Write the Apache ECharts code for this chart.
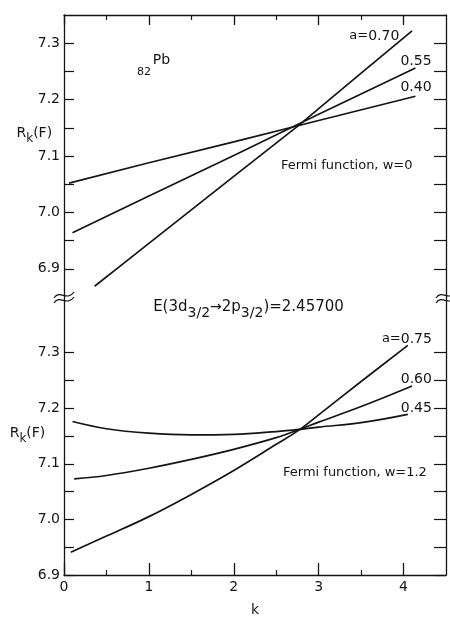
<!DOCTYPE html>
<html>
<head>
<meta charset="utf-8">
<script src="https://cdn.jsdelivr.net/npm/echarts@6/dist/echarts.min.js"></script>
<style>
  html, body { margin: 0; padding: 0; background: #ffffff; }
  #chart { width: 450px; height: 620px; }
</style>
</head>
<body>
<div id="chart"></div>
<script>
// Tick positions shared by both panels
const kMajorTicks = [0, 1, 2, 3, 4];
const kMinorTicks = [0.5, 1.5, 2.5, 3.5];
const rTicks = [6.9, 6.95, 7.0, 7.05, 7.1, 7.15, 7.2, 7.25, 7.3];
const rLabels = [6.9, 7.0, 7.1, 7.2, 7.3];

// Upper panel: Fermi function, w = 0
const kTopA070 = [0.36, 1, 2, 2.78, 3, 4.1];
const rTopA070 = [6.869, 6.945, 7.064, 7.156, 7.184, 7.322];
const kTopA055 = [0.1, 1, 2, 3, 4.14];
const rTopA055 = [6.964, 7.029, 7.101, 7.174, 7.256];
const kTopA040 = [0.06, 1, 2, 3, 4.14];
const rTopA040 = [7.052, 7.088, 7.125, 7.163, 7.206];

// Lower panel: Fermi function, w = 1.2
const kBotA075 = [0.08, 0.5, 1, 1.5, 2, 2.5, 2.78, 3, 3.5, 4.05];
const rBotA075 = [6.941, 6.970, 7.005, 7.045, 7.088, 7.135, 7.162, 7.188, 7.248, 7.313];
const kBotA060 = [0.12, 0.5, 1, 1.5, 2, 2.5, 2.78, 3, 3.5, 4.1];
const rBotA060 = [7.073, 7.079, 7.092, 7.108, 7.126, 7.147, 7.162, 7.175, 7.203, 7.240];
const kBotA045 = [0.1, 0.5, 1, 1.5, 2, 2.5, 2.78, 3, 3.5, 4.05];
const rBotA045 = [7.176, 7.163, 7.155, 7.152, 7.153, 7.158, 7.162, 7.166, 7.174, 7.189];

const topCurveLabels = ['0.70', '0.55', '0.40'];
const botCurveLabels = ['0.75', '0.60', '0.45'];
const topCaption = 'Fermi function, w=0';
const botCaption = 'Fermi function, w=1.2';

const INK = '#141414';
const FONT = 'DejaVu Sans';

function pairs(ks, rs) { return ks.map((k, i) => [k, rs[i]]); }

function xAxisPair(grid, pos, majorLen, withLabels) {
  return [
    {
      gridIndex: grid, type: 'value', position: pos, min: 0, max: 4.5,
      axisLine: { show: true, onZero: false, lineStyle: { color: INK, width: 1.3 } },
      axisTick: { show: true, inside: true, length: majorLen, customValues: kMajorTicks,
                  lineStyle: { color: INK, width: 1.3 } },
      axisLabel: withLabels
        ? { show: true, customValues: kMajorTicks, color: INK, fontFamily: FONT, fontSize: 14, margin: 5,
            formatter: v => String(Math.round(v)) }
        : { show: false },
      splitLine: { show: false },
      name: withLabels ? 'k' : '',
      nameLocation: 'middle', nameGap: 28,
      nameTextStyle: { color: INK, fontFamily: FONT, fontSize: 14 }
    },
    {
      gridIndex: grid, type: 'value', position: pos, min: 0, max: 4.5,
      axisLine: { show: false },
      axisTick: { show: true, inside: true, length: 5, customValues: kMinorTicks,
                  lineStyle: { color: INK, width: 1.2 } },
      axisLabel: { show: false },
      splitLine: { show: false }
    }
  ];
}

function yAxisPair(grid, min, max) {
  return [
    {
      gridIndex: grid, type: 'value', position: 'left', min: min, max: max,
      axisLine: { show: true, onZero: false, lineStyle: { color: INK, width: 1.3 } },
      axisTick: { show: true, inside: true, length: 10, customValues: rTicks,
                  lineStyle: { color: INK, width: 1.2 } },
      axisLabel: { show: true, customValues: rLabels, color: INK, fontFamily: FONT, fontSize: 14, margin: 4,
                   formatter: v => v.toFixed(1) },
      splitLine: { show: false }
    },
    {
      gridIndex: grid, type: 'value', position: 'right', min: min, max: max,
      axisLine: { show: true, onZero: false, lineStyle: { color: INK, width: 1.3 } },
      axisTick: { show: true, inside: true, length: 12, customValues: rTicks,
                  lineStyle: { color: INK, width: 1.2 } },
      axisLabel: { show: false },
      splitLine: { show: false }
    }
  ];
}

function curve(name, xi, yi, data, smooth) {
  return {
    name: 'a=' + name, type: 'line', xAxisIndex: xi, yAxisIndex: yi,
    data: data, showSymbol: false, symbol: 'none', smooth: smooth,
    lineStyle: { color: INK, width: 1.7 }, silent: true, animation: false
  };
}

const chart = echarts.init(document.getElementById('chart'), null, { renderer: 'canvas' });

chart.setOption({
  backgroundColor: '#ffffff',
  animation: false,
  grid: [
    { left: 64, right: 4, top: 15, height: 282 },
    { left: 64, right: 4, top: 297, height: 278 }
  ],
  xAxis: [...xAxisPair(0, 'top', 10, false), ...xAxisPair(1, 'bottom', 12, true)],
  yAxis: [...yAxisPair(0, 6.85, 7.35), ...yAxisPair(1, 6.9, 7.4)],
  series: [
    curve(topCurveLabels[0], 0, 0, pairs(kTopA070, rTopA070), 0.2),
    curve(topCurveLabels[1], 0, 0, pairs(kTopA055, rTopA055), false),
    curve(topCurveLabels[2], 0, 0, pairs(kTopA040, rTopA040), false),
    curve(botCurveLabels[0], 2, 2, pairs(kBotA075, rBotA075), 0.4),
    curve(botCurveLabels[1], 2, 2, pairs(kBotA060, rBotA060), 0.4),
    curve(botCurveLabels[2], 2, 2, pairs(kBotA045, rBotA045), 0.4)
  ]
});

// Annotations, placed in each panel's data space
function px(grid, k, r) { return chart.convertToPixel({ gridIndex: grid }, [k, r]); }

function label(grid, k, r, text, align, extra) {
  const p = px(grid, k, r);
  return {
    type: 'text', x: p[0], y: p[1], silent: true,
    style: Object.assign({
      text: text, fill: INK, font: '13px "' + FONT + '"',
      align: align, verticalAlign: 'middle'
    }, extra || {})
  };
}

const richRk = {
  n: { fontFamily: FONT, fontSize: 14, lineHeight: 24, fill: INK, color: INK },
  s: { fontFamily: FONT, fontSize: 12, lineHeight: 12, verticalAlign: 'bottom', fill: INK, color: INK }
};
const richE = {
  n: { fontFamily: FONT, fontSize: 15, lineHeight: 26, fill: INK, color: INK },
  s: { fontFamily: FONT, fontSize: 14, lineHeight: 12, verticalAlign: 'bottom', fill: INK, color: INK },
  a: { fontFamily: FONT, fontSize: 14, lineHeight: 26, fill: INK, color: INK }
};
const richA = {
  p: { fontFamily: FONT, fontSize: 13, fill: INK, color: INK },
  d: { fontFamily: FONT, fontSize: 14, fill: INK, color: INK }
};

function breakMark(grid, k, r) {
  const p = px(grid, k, r);
  const one = dy => ({
    type: 'bezierCurve', x: p[0], y: p[1] + dy, silent: true,
    shape: { x1: -10, y1: 3, cpx1: -4, cpy1: -6, cpx2: 3, cpy2: 7, x2: 10, y2: -3 },
    style: { stroke: INK, lineWidth: 1.2, fill: null }
  });
  return [one(-2), one(3)];
}

const f14 = { font: '14px "' + FONT + '"' };

chart.setOption({
  graphic: [
    label(0, 3.95, 7.313, '{p|a=}{d|' + topCurveLabels[0] + '}', 'right', { rich: richA }),
    label(0, 4.33, 7.2686, topCurveLabels[1], 'right', f14),
    label(0, 4.33, 7.2225, topCurveLabels[2], 'right', f14),
    label(0, 2.556, 7.0824, topCaption, 'left'),
    label(0, 0.86, 7.249, '82', 'left', { font: '11px "' + FONT + '"' }),
    label(0, 1.045, 7.270, 'Pb', 'left', f14),
    label(0, -0.56, 7.141, '{n|R}{s|k}{n|(F)}', 'left', { rich: richRk }),
    label(1, 4.334, 7.3245, '{p|a=}{d|' + botCurveLabels[0] + '}', 'right', { rich: richA }),
    label(1, 4.334, 7.252, botCurveLabels[1], 'right', f14),
    label(1, 4.334, 7.1998, botCurveLabels[2], 'right', f14),
    label(1, 2.58, 7.0835, botCaption, 'left'),
    label(1, 1.05, 7.382, '{n|E(3d}{s|3/2}{a|\u2192}{n|2p}{s|3/2}{n|)=2.45700}', 'left', { rich: richE }),
    label(1, -0.64, 7.155, '{n|R}{s|k}{n|(F)}', 'left', { rich: richRk }),
    ...breakMark(0, 0, 6.85),
    ...breakMark(0, 4.5, 6.85)
  ]
});
</script>
</body>
</html>
